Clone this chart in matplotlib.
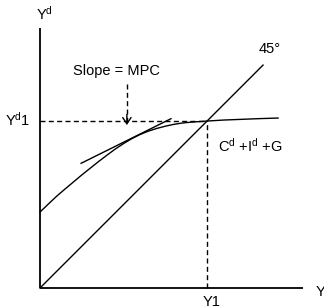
import matplotlib.pyplot as plt

plt.rcParams['font.family'] = 'Liberation Sans'
plt.rcParams['mathtext.fontset'] = 'custom'
plt.rcParams['mathtext.rm'] = 'Liberation Sans'
plt.rcParams['mathtext.it'] = 'Liberation Sans'

# aggregate demand curve Cd + Id + G
ad_x = [0, 0.5, 1, 1.5, 2, 2.5, 3, 3.5, 4, 4.5, 5, 5.5, 6, 6.5, 7, 7.5, 8, 8.5, 9, 10, 11, 12, 13, 14.25]
ad_y = [4.55, 5.03, 5.5, 5.93, 6.35, 6.77, 7.17, 7.57, 7.95, 8.32, 8.65, 8.95, 9.2, 9.4,
        9.56, 9.69, 9.8, 9.88, 9.93, 10.0, 10.06, 10.1, 10.14, 10.18]

# tangent line (slope = MPC)
tan_x = [2.46, 7.84]
tan_y = [7.47, 10.14]

# 45 degree line
deg45_x = [0, 13.35]
deg45_y = [0, 13.35]

# equilibrium
y1 = 10.0
yd1 = 10.0

x_axis_end = 15.75
y_axis_end = 15.6

fig = plt.figure(figsize=(3.24, 3.08), dpi=100)
ax = fig.add_axes([0, 0, 1, 1])
ax.set_xlim(-2.395, 17.0)
ax.set_ylim(-1.198, 17.25)
ax.axis('off')

lw = 1.0
dash = (0, (3.6, 2.4))

# axes
ax.plot([0, x_axis_end], [0, 0], color='black', lw=1.3, solid_capstyle='butt')
ax.plot([0, 0], [0, y_axis_end], color='black', lw=1.3, solid_capstyle='butt')

# curves
ax.plot(deg45_x, deg45_y, color='black', lw=lw)
ax.plot(ad_x, ad_y, color='black', lw=lw)
ax.plot(tan_x, tan_y, color='black', lw=lw)

# dashed guides
ax.plot([0, y1], [yd1, yd1], color='black', lw=lw, linestyle=dash)
ax.plot([y1, y1], [0, yd1], color='black', lw=lw, linestyle=dash)

# arrow from label to tangent point
ax.plot([5.2, 5.2], [12.2, 10.0], color='black', lw=lw, linestyle=dash)
ax.annotate('', xy=(5.2, 9.76), xytext=(5.2, 10.4),
            arrowprops=dict(arrowstyle='->,head_length=0.45,head_width=0.3',
                            color='black', lw=lw, shrinkA=0, shrinkB=0))

fs = 10.5
ax.text(4.57, 12.75, 'Slope = MPC', fontsize=fs, ha='center', va='baseline')
ax.text(13.1, 14.07, '45°', fontsize=fs, ha='left', va='baseline')
ax.text(10.66, 8.14, r'C$^{\mathrm{d}}$ +I$^{\mathrm{d}}$ +G', fontsize=fs,
        ha='left', va='baseline')
ax.text(-0.24, 16.05, r'Y$^{\mathrm{d}}$', fontsize=fs, ha='left', va='baseline')
ax.text(-0.6, 9.7, r'Y$^{\mathrm{d}}$1', fontsize=fs, ha='right', va='baseline')
ax.text(10.24, -1.1, 'Y1', fontsize=fs, ha='center', va='baseline')
ax.text(16.47, -0.48, 'Y', fontsize=fs, ha='left', va='baseline')

fig.savefig('out.png', dpi=100)
